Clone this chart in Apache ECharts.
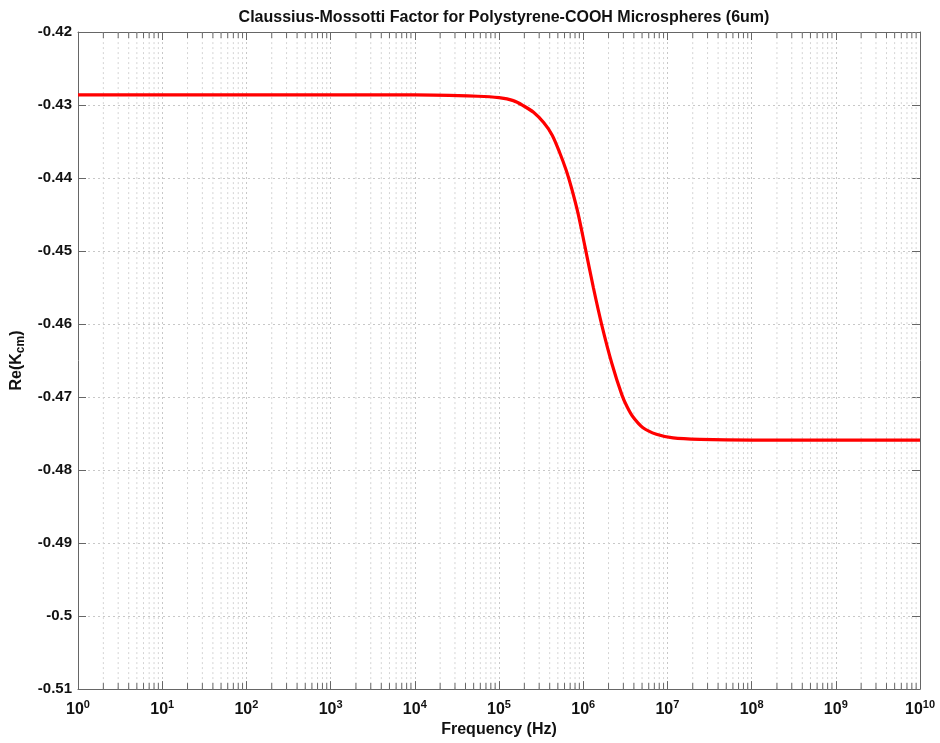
<!DOCTYPE html>
<html>
<head>
<meta charset="utf-8">
<script src="https://cdn.jsdelivr.net/npm/echarts@6/dist/echarts.min.js"></script>
<style>html,body{margin:0;padding:0;background:#fff}#c{width:940px;height:743px}</style>
</head>
<body>
<div id="c"></div>
<script>
// Frequency (Hz) sample points and Re(K_cm)
var freqs = [1, 10, 100, 1e3, 1e4, 5.62e4, 1e5, 1.48e5, 1.95e5, 2.57e5, 3.39e5, 4.27e5, 5.25e5, 6.31e5, 7.24e5, 8.71e5, 1.05e6, 1.32e6, 1.66e6, 2.19e6, 2.88e6, 3.31e6, 3.89e6, 5.13e6, 7.41e6, 1.17e7, 2.45e7, 1e8, 1e9, 1e10];
var reK   = [-0.4286, -0.4286, -0.4286, -0.4286, -0.4286, -0.4288, -0.4290, -0.4294, -0.4301, -0.4310, -0.4324, -0.4341, -0.4365, -0.4390, -0.4413, -0.4449, -0.4494, -0.4550, -0.4601, -0.4654, -0.4697, -0.4713, -0.4727, -0.4742, -0.4751, -0.4756, -0.4758, -0.4759, -0.4759, -0.4759];
var decades = [1, 10, 100, 1e3, 1e4, 1e5, 1e6, 1e7, 1e8, 1e9];
var minorMult = [2, 3, 4, 5, 6, 7, 8, 9];
var minorTicks = [];
decades.forEach(function (d) { minorMult.forEach(function (m) { minorTicks.push(d * m); }); });

var FONT = 'Liberation Sans, Arial, sans-serif';
var YMIN = -0.51, YMAX = -0.42;
var gridStyle = { color: '#c8c8c8', width: 1, type: [2, 3] };
var axisCol = '#666';

var chart = echarts.init(document.getElementById('c'));
chart.setOption({
  animation: false,
  title: {
    text: 'Claussius-Mossotti Factor for Polystyrene-COOH Microspheres (6um)',
    left: 499, top: 5, textAlign: 'center',
    textStyle: { fontFamily: FONT, fontSize: 16, fontWeight: 'bold', color: '#111' }
  },
  grid: { left: 78, right: 20, top: 32, bottom: 53 },
  xAxis: [{
    type: 'log', logBase: 10, min: 1, max: 1e10, interval: 1, splitNumber: 10, position: 'bottom',
    name: 'Frequency (Hz)', nameLocation: 'middle', nameGap: 30,
    nameTextStyle: { fontFamily: FONT, fontSize: 16, fontWeight: 'bold', color: '#111' },
    axisLine: { onZero: false, lineStyle: { color: axisCol, width: 1 } },
    axisTick: { inside: true, length: 8, lineStyle: { color: axisCol } },
    splitLine: { show: true, lineStyle: gridStyle },
    axisLabel: {
      margin: 10, hideOverlap: false, showMinLabel: true, showMaxLabel: true,
      fontFamily: FONT, fontSize: 16, fontWeight: 'bold', color: '#111',
      formatter: function (v) { return '10{sup|' + Math.round(Math.log10(v)) + '}'; },
      rich: { sup: { fontFamily: FONT, fontSize: 11, fontWeight: 'bold', color: '#111', verticalAlign: 'top', padding: [0, 0, 9, 0] } }
    }
  }, {
    type: 'log', logBase: 10, min: 1, max: 1e10, interval: 1, splitNumber: 10, position: 'top',
    axisLine: { onZero: false, lineStyle: { color: axisCol, width: 1 } },
    axisTick: { inside: true, length: 8, lineStyle: { color: axisCol } },
    axisLabel: { show: false }, splitLine: { show: false }
  }],
  yAxis: [{
    type: 'value', min: YMIN, max: YMAX, interval: 0.01, position: 'left',
    name: 'Re(K{sub|cm})', nameLocation: 'middle', nameGap: 50, nameRotate: 90,
    nameTextStyle: { fontFamily: FONT, fontSize: 16, fontWeight: 'bold', color: '#111',
      rich: { sub: { fontFamily: FONT, fontSize: 12, fontWeight: 'bold', color: '#111', verticalAlign: 'bottom', padding: [9, 0, 0, 0] } } },
    axisLine: { onZero: false, lineStyle: { color: axisCol, width: 1 } },
    axisTick: { inside: true, length: 8, lineStyle: { color: axisCol } },
    splitLine: { show: true, lineStyle: gridStyle },
    axisLabel: {
      margin: 6, fontFamily: FONT, fontSize: 15, fontWeight: 'bold', color: '#111',
      formatter: function (v) { return String(parseFloat(v.toFixed(2))); }
    }
  }, {
    type: 'value', min: YMIN, max: YMAX, interval: 0.01, position: 'right',
    axisLine: { onZero: false, lineStyle: { color: axisCol, width: 1 } },
    axisTick: { inside: true, length: 8, lineStyle: { color: axisCol } },
    axisLabel: { show: false }, splitLine: { show: false }
  }],
  series: [{
    type: 'custom', silent: true, z: 1, clip: false,
    data: minorTicks.map(function (v) { return [v, YMIN]; }),
    renderItem: function (params, api) {
      var x = api.value(0);
      var b = api.coord([x, YMIN]);
      var t = api.coord([x, YMAX]);
      return {
        type: 'group',
        children: [
          { type: 'line', shape: { x1: b[0], y1: b[1], x2: t[0], y2: t[1] }, style: { stroke: '#d4d4d4', lineWidth: 1, lineDash: [2, 3] } },
          { type: 'line', shape: { x1: b[0], y1: b[1], x2: b[0], y2: b[1] - 6 }, style: { stroke: axisCol, lineWidth: 1 } },
          { type: 'line', shape: { x1: t[0], y1: t[1], x2: t[0], y2: t[1] + 6 }, style: { stroke: axisCol, lineWidth: 1 } }
        ]
      };
    }
  }, {
    type: 'line', z: 5,
    data: freqs.map(function (f, i) { return [f, reK[i]]; }),
    smooth: 0.3, showSymbol: false,
    lineStyle: { color: '#ff0000', width: 3.2 }
  }]
});
</script>
</body>
</html>
